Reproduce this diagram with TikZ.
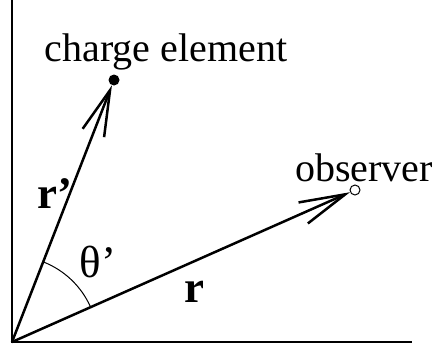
\documentclass[tikz,border=0pt]{standalone}
\usepackage{fontspec}
\setmainfont{Liberation Serif}
\usetikzlibrary{arrows.meta}
\begin{document}
\begin{tikzpicture}[x=1pt,y=-1pt,
  lbl/.style={font=\fontsize{40}{48}\selectfont, inner sep=0pt},
  sym/.style={font=\fontsize{45}{54}\selectfont, inner sep=0pt},
  vec/.style={line width=2.5pt, -{Straight Barb[length=46pt,width=23pt,line width=2.5pt]}},
  axis/.style={line width=1.5pt}]
\useasboundingbox (0,0) rectangle (435,348);
\coordinate (O) at (12,342);
\coordinate (ytop) at (12,0);
\coordinate (xend) at (412,342);
\draw[axis] (ytop) -- (O) -- (xend);
\node[circle, fill=black, inner sep=0pt, minimum size=11pt] (q) at (114,80) {};
\node[circle, draw, line width=1pt, fill=white, inner sep=0pt, minimum size=10pt] (obs) at (355,190) {};
\draw[vec] (O) -- (q);
\draw[vec] (O) -- (obs);
\draw[line width=1pt] (O) ++(-68.8:86) arc[start angle=-68.8, end angle=-23.9, radius=86];
\node[lbl, anchor=base] (cl) at (166,61) {charge element};
\node[lbl, anchor=base] (ol) at (364,181) {observer};
\node[sym, anchor=base] (rp) at (55,208) {\textbf{r’}};
\node[sym, anchor=base] (rl) at (194,302) {\textbf{r}};
\node[sym, anchor=base] (th) at (98,277) {θ’};
\end{tikzpicture}
\end{document}
